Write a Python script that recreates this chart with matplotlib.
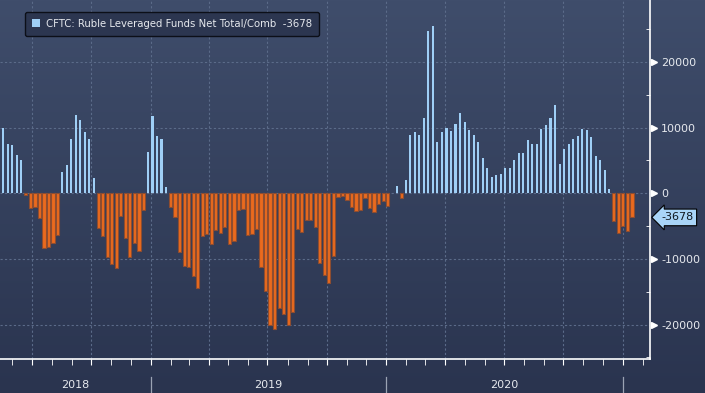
import numpy as np
import pandas as pd
import matplotlib
matplotlib.use("Agg")
import matplotlib.pyplot as plt
import matplotlib.dates as mdates
import matplotlib.transforms as mtransforms
from matplotlib.patches import Patch

plt.rcParams["axes.unicode_minus"] = False

# weekly CFTC ruble leveraged funds net position (contracts)
start_date = "2018-05-18"
net_position = [
    10000, 7480, 7330, 5800, 5040,
    -300, -2240, -2040, -3770, -8300, -8200, -7580, -6360,
    3250, 4340, 8300, 11970, 11200, 9300, 8300, 2300,
    -5290, -6510, -9720, -10740, -11400, -3460, -6820, -9720, -7580, -8800, -2490,
    6330, 11700, 8760, 8330, 920,
    -2090, -3610, -8960, -11090, -11250, -12620, -14450, -6510, -6260, -7680,
    -5650, -6060, -5140, -7680, -7330, -2600, -2440, -6400, -6160, -5500,
    -11200, -14850, -20050, -20650, -17550, -18400, -20100, -18100, -5400, -5850,
    -4100, -4100, -5200, -10600, -12450, -13650, -9550, -540, -450, -1000,
    -2050, -2650, -2490, -710, -2240, -2850, -1580, -1170, -1980,
    100, 1050, -660,
    2050, 8950, 9360, 8950, 11410, 24750, 25550, 7880, 9260, 9900, 9410, 10610,
    12300, 10800, 9710, 8800, 7880, 5440, 3860, 2490, 2800, 2950, 3880, 3880,
    5110, 6200, 6200, 8040, 7580, 7580, 9740, 10360, 11440, 13440, 4500, 6810,
    7450, 8200, 8690, 9740, 9610, 8640, 5730, 5110, 3570, 640,
    -4200, -6050, -4980, -5720, -3678,
]
series_label = "CFTC: Ruble Leveraged Funds Net Total/Comb"
y_ticks = [-20000, -10000, 0, 10000, 20000]
years = [2018, 2019, 2020]

dates = pd.date_range(start_date, periods=len(net_position), freq="7D")
values = np.array(net_position)
last_value = net_position[-1]

pos_color = "#9fcff6"
neg_color = "#ea6a1e"
neg_edge = "#8e4d30"
text_color = "#e6e9ee"
grid_color = "#5b6b89"

fig = plt.figure(figsize=(7.05, 3.93), dpi=100)

# dark blue gradient background
bg = fig.add_axes([0, 0, 1, 1], zorder=-1)
grad = np.linspace(0, 1, 256).reshape(-1, 1)
top = np.array([0x3f, 0x4d, 0x6b]) / 255
bottom = np.array([0x2a, 0x34, 0x4f]) / 255
img = top + (bottom - top) * grad[:, :, None]
bg.imshow(img, aspect="auto", extent=[0, 1, 0, 1])
bg.axis("off")

ax = fig.add_axes([0, 0.0858, 650 / 705, 1 - 0.0858])
ax.set_facecolor("none")

mask = values >= 0
ax.bar(dates[mask], values[mask], width=3.2, color=pos_color, zorder=3)
ax.bar(dates[~mask], values[~mask], width=5.0, color=neg_color,
       edgecolor=neg_edge, linewidth=0.8, zorder=3)

ax.set_xlim(pd.Timestamp("2018-05-13"), pd.Timestamp("2021-02-12"))
ax.set_ylim(-25290, 29440)

# grid
ax.set_yticks(y_ticks)
ax.xaxis.set_major_locator(mdates.MonthLocator(bymonth=[1, 4, 7, 10]))
ax.xaxis.set_minor_locator(mdates.MonthLocator())
ax.grid(True, color=grid_color, linestyle=(0, (2, 2)), linewidth=0.8, zorder=0)

for s in ["left", "top"]:
    ax.spines[s].set_visible(False)
for s in ["right", "bottom"]:
    ax.spines[s].set_color("white")
    ax.spines[s].set_linewidth(1.2)

ax.yaxis.tick_right()
ax.tick_params(axis="y", which="major", length=0, pad=8, labelsize=8,
               labelcolor=text_color)
ax.yaxis.set_minor_locator(matplotlib.ticker.MultipleLocator(5000))
ax.tick_params(axis="y", which="minor", direction="in", length=3, color="white")
ax.tick_params(axis="x", which="both", direction="out", length=4,
               color="white", labelbottom=False)

# little triangles at major y ticks
ytrans = mtransforms.blended_transform_factory(ax.transAxes, ax.transData)
ax.plot([1.006] * len(y_ticks), y_ticks, linestyle="none", marker=">",
        markersize=5, color="white", transform=ytrans, clip_on=False)

# year labels and separators
xtrans = mtransforms.blended_transform_factory(ax.transData, ax.transAxes)
x0, x1 = ax.get_xlim()
for y in years:
    a = max(mdates.date2num(pd.Timestamp(f"{y}-01-01")), x0)
    b = min(mdates.date2num(pd.Timestamp(f"{y + 1}-01-01")), x1)
    ax.text((a + b) / 2, -0.072, str(y), transform=xtrans, ha="center",
            va="center", fontsize=8, color=text_color)
for y in years[1:] + [years[-1] + 1]:
    d = mdates.date2num(pd.Timestamp(f"{y}-01-01"))
    ax.plot([d, d], [-0.048, -0.1], transform=xtrans, color="#9aa3b3",
            linewidth=0.9, clip_on=False)

# last value callout
ax.text(1.017, last_value, f"{last_value}", transform=ytrans, ha="left",
        va="center", fontsize=8, color="#101820",
        bbox=dict(boxstyle="larrow,pad=0.3", fc="#a9d5f8", ec="black", lw=0.8))

leg = ax.legend(handles=[Patch(facecolor=pos_color)],
                labels=[f"{series_label}  {last_value}"],
                loc="upper left", bbox_to_anchor=(0.03, 0.982),
                fontsize=7.3, handlelength=0.8, handleheight=0.9,
                handletextpad=0.6, borderpad=0.7, fancybox=True,
                facecolor="#2c3650", edgecolor="#0c0f18", framealpha=1)
for t in leg.get_texts():
    t.set_color(text_color)

fig.savefig("out.png", dpi=100)
